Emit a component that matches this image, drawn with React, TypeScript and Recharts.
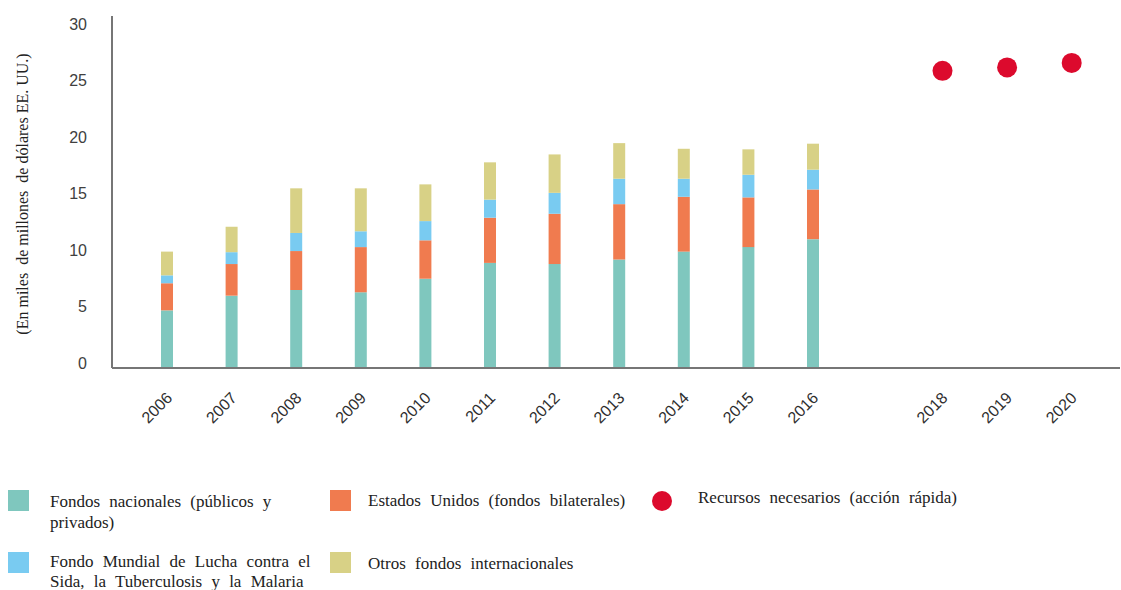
import { ComposedChart, Bar, Line, XAxis, YAxis, Label } from 'recharts';

const years = ['2006', '2007', '2008', '2009', '2010', '2011', '2012', '2013', '2014', '2015', '2016', '2017', '2018', '2019', '2020'];
const nacionales = [5.1, 6.4, 6.9, 6.7, 7.9, 9.3, 9.2, 9.6, 10.3, 10.7, 11.4, null, null, null, null];
const estadosUnidos = [2.4, 2.8, 3.45, 4.0, 3.4, 4.0, 4.45, 4.9, 4.85, 4.4, 4.4, null, null, null, null];
const fondoMundial = [0.7, 1.05, 1.6, 1.4, 1.7, 1.6, 1.85, 2.25, 1.6, 2.0, 1.75, null, null, null, null];
const otros = [2.1, 2.25, 3.95, 3.8, 3.25, 3.3, 3.4, 3.15, 2.65, 2.25, 2.3, null, null, null, null];
const recursos = [null, null, null, null, null, null, null, null, null, null, null, null, 26.3, 26.6, 27.0];
const yTicks = [0, 5, 10, 15, 20, 25, 30];
const hiddenTicks = ['2017'];

const COLORS = {
  nacionales: '#7fc7be',
  eeuu: '#f07b4f',
  mundial: '#79cbf1',
  otros: '#d8d186',
  recursos: '#dc0a2d',
};

const chartData = years.map((year, i) => ({
  year,
  nacionales: nacionales[i],
  eeuu: estadosUnidos[i],
  mundial: fondoMundial[i],
  otros: otros[i],
  recursos: recursos[i],
}));

const axisStroke = '#767676';
const serif = '"Liberation Serif", "Times New Roman", serif';
const sans = '"Liberation Sans", Arial, sans-serif';

function XTick({ x, y, payload }: any) {
  if (hiddenTicks.includes(payload.value)) return null;
  const tx = x + 6;
  const ty = y + 31;
  return (
    <text
      x={tx}
      y={ty}
      textAnchor="end"
      fontSize={16}
      fontFamily={sans}
      fill="#2e2e2e"
      transform={`rotate(-45, ${tx}, ${ty})`}
    >
      {payload.value}
    </text>
  );
}

function YTick({ x, y, payload }: any) {
  return (
    <text x={x} y={y - 5} dy="0.35em" textAnchor="end" fontSize={16} fontFamily={sans} fill="#404040">
      {payload.value}
    </text>
  );
}

function YTitle() {
  return (
    <text
      x={22}
      y={194}
      transform="rotate(-90, 22, 194)"
      textAnchor="middle"
      dominantBaseline="central"
      fontSize={16}
      fontFamily={serif}
      fill="#222"
      style={{ whiteSpace: 'pre' }}
    >
      {'(En miles  de millones  de dólares EE. UU.)'}
    </text>
  );
}

function LegendOverlay() {
  const textProps = {
    fontSize: 17,
    fontFamily: serif,
    fill: '#222',
    style: { whiteSpace: 'pre' as const, wordSpacing: 5 },
  };
  return (
    <svg width={1121} height={590} style={{ position: 'absolute', left: 0, top: 0, pointerEvents: 'none' }}>
      <rect x={8} y={490} width={21} height={21} fill={COLORS.nacionales} />
      <text x={50} y={507} {...textProps}>Fondos nacionales (públicos y</text>
      <text x={50} y={528} {...textProps}>privados)</text>

      <rect x={8} y={552} width={21} height={21} fill={COLORS.mundial} />
      <text x={50} y={567} {...textProps}>Fondo Mundial de Lucha contra el</text>
      <text x={50} y={587} {...textProps}>Sida, la Tuberculosis y la Malaria</text>

      <rect x={330} y={490} width={21} height={21} fill={COLORS.eeuu} />
      <text x={368} y={506} {...textProps}>Estados Unidos (fondos bilaterales)</text>

      <rect x={330} y={552} width={21} height={21} fill={COLORS.otros} />
      <text x={368} y={569} {...textProps}>Otros fondos internacionales</text>

      <circle cx={662} cy={501} r={10} fill={COLORS.recursos} />
      <text x={698} y={503} {...textProps}>Recursos necesarios (acción rápida)</text>
    </svg>
  );
}

export default function App() {
  return (
    <div style={{ position: 'absolute', left: 0, top: 0, width: 1121, height: 590, background: '#fff' }}>
      <ComposedChart
        width={1121}
        height={590}
        data={chartData}
        margin={{ top: 16, right: 1, bottom: 192, left: 0 }}
        barSize={12}
      >
        <XAxis
          dataKey="year"
          height={30}
          interval={0}
          tick={<XTick />}
          tickLine={false}
          tickSize={0}
          tickMargin={0}
          padding={{ left: 23, right: 16 }}
          axisLine={{ stroke: axisStroke, strokeWidth: 2 }}
        />
        <YAxis
          width={112}
          domain={[0, 31.15]}
          ticks={yTicks}
          tick={<YTick />}
          tickLine={false}
          tickSize={0}
          tickMargin={25}
          allowDataOverflow
          axisLine={{ stroke: axisStroke, strokeWidth: 2 }}
        >
          <Label content={<YTitle />} />
        </YAxis>
        <Bar dataKey="nacionales" stackId="a" fill={COLORS.nacionales} isAnimationActive={false} />
        <Bar dataKey="eeuu" stackId="a" fill={COLORS.eeuu} isAnimationActive={false} />
        <Bar dataKey="mundial" stackId="a" fill={COLORS.mundial} isAnimationActive={false} />
        <Bar dataKey="otros" stackId="a" fill={COLORS.otros} isAnimationActive={false} />
        <Line
          dataKey="recursos"
          stroke="none"
          dot={{ r: 10, fill: COLORS.recursos, stroke: 'none' }}
          activeDot={false}
          isAnimationActive={false}
        />
      </ComposedChart>
      <LegendOverlay />
    </div>
  );
}
